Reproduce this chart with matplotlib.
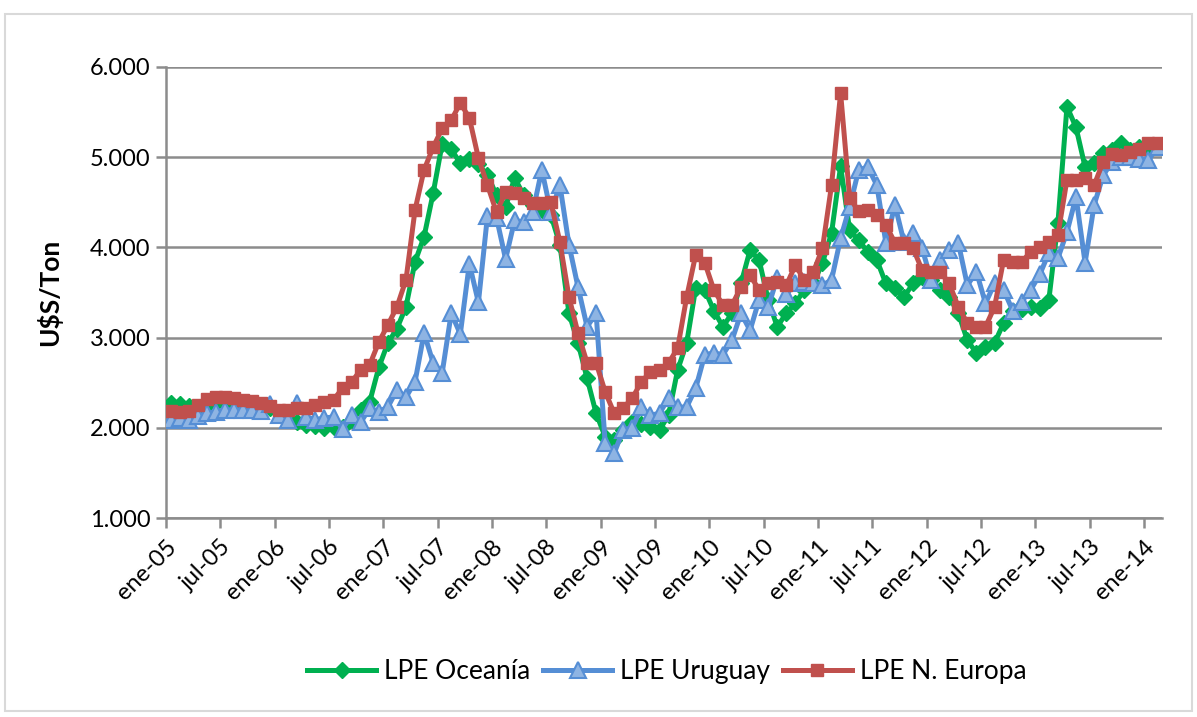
import matplotlib
matplotlib.use("Agg")
import matplotlib.pyplot as plt
from matplotlib.patches import Rectangle
import numpy as np

plt.rcParams['font.family'] = ['Lato', 'DejaVu Sans']

# Monthly series (mid-month), ene-05 .. feb-14 (US$/Ton)
oceania = [2270, 2260, 2240, 2230, 2250, 2270, 2270, 2260, 2250, 2250, 2240,
           2220, 2180, 2120, 2060, 2030, 2020, 2000, 2010, 2010, 2090, 2200, 2290,
           2670, 2940, 3100, 3340, 3840, 4120, 4600, 5150, 5090, 4930, 4980, 4920,
           4800, 4580, 4450, 4770, 4580, 4470, 4420, 4360, 4030, 3270, 2940, 2550,
           2160, 1900, 1860, 1975, 2060, 2040, 2010, 1975, 2140, 2640, 2940, 3550,
           3530, 3300, 3120, 3270, 3600, 3970, 3860, 3420, 3120, 3270, 3380, 3530,
           3600, 3830, 4160, 4900, 4190, 4080, 3950, 3860, 3600, 3550, 3450, 3600,
           3670, 3640, 3530, 3450, 3270, 2970, 2830, 2900, 2940, 3160, 3300, 3320,
           3340, 3330, 3420, 4270, 5560, 5330, 4890, 4940, 5050, 5080, 5160, 5080,
           5110, 5110, 5110]

uruguay = [2090, 2110, 2090, 2130, 2160, 2180, 2200, 2200, 2200, 2200, 2190,
           2260, 2140, 2090, 2270, 2120, 2090, 2110, 2120, 1990, 2140, 2060, 2220,
           2180, 2230, 2420, 2340, 2510, 3050, 2720, 2610, 3270, 3040, 3820, 3390,
           4350, 4330, 3870, 4300, 4280, 4390, 4860, 4390, 4690, 4030, 3560, 3120,
           3270, 1830, 1720, 1980, 2000, 2230, 2140, 2160, 2330, 2230, 2230, 2440,
           2810, 2830, 2810, 2970, 3270, 3080, 3420, 3340, 3660, 3480, 3600, 3620,
           3600, 3580, 3640, 4100, 4450, 4860, 4890, 4690, 4050, 4470, 4060, 4160,
           3990, 3640, 3860, 3970, 4050, 3580, 3730, 3380, 3600, 3530, 3300, 3400,
           3530, 3700, 3940, 3880, 4170, 4560, 3830, 4470, 4800, 4950, 5000, 5000,
           4980, 4970, 5110]

n_europa = [2190, 2180, 2190, 2250, 2320, 2340, 2340, 2330, 2310, 2300, 2280,
            2240, 2200, 2200, 2220, 2220, 2250, 2285, 2310, 2440, 2510, 2640, 2700,
            2950, 3140, 3340, 3640, 4415, 4860, 5110, 5320, 5410, 5600, 5435, 4990,
            4690, 4390, 4610, 4600, 4550, 4490, 4490, 4500, 4060, 3450, 3050, 2720,
            2720, 2400, 2160, 2220, 2330, 2510, 2620, 2640, 2720, 2880, 3450, 3920,
            3830, 3530, 3360, 3360, 3560, 3690, 3530, 3610, 3620, 3580, 3800, 3640,
            3730, 3990, 4690, 5710, 4550, 4400, 4410, 4360, 4250, 4050, 4050, 3990,
            3750, 3730, 3730, 3600, 3340, 3160, 3120, 3120, 3340, 3860, 3840, 3840,
            3950, 4000, 4060, 4140, 4750, 4750, 4770, 4690, 4950, 5040, 5020, 5060,
            5090, 5160, 5160]

tick_labels = ['ene-05', 'jul-05', 'ene-06', 'jul-06', 'ene-07', 'jul-07', 'ene-08',
               'jul-08', 'ene-09', 'jul-09', 'ene-10', 'jul-10', 'ene-11', 'jul-11',
               'ene-12', 'jul-12', 'ene-13', 'jul-13', 'ene-14']
y_ticks = [1000, 2000, 3000, 4000, 5000, 6000]
series_names = ['LPE Oceanía', 'LPE Uruguay', 'LPE N. Europa']

fig = plt.figure(figsize=(11.97, 7.17), dpi=100)
fig.patch.set_facecolor('white')
ax = fig.add_axes([0.1387, 0.2775, 0.9708 - 0.1387, 0.9066 - 0.2775])

# months since 1-ene-05; each observation sits at mid-month
x = np.arange(len(oceania)) + 0.5

ax.plot(x, oceania, color='#00B050', lw=3.6, marker='D', ms=8,
        mfc='#00B050', mec='#00B050', label=series_names[0], zorder=3,
        solid_joinstyle='round')
ax.plot(x, uruguay, color='#558ED5', lw=3.6, marker='^', ms=11,
        mfc='#8EB4E3', mec='#558ED5', mew=1.5, label=series_names[1], zorder=4,
        solid_joinstyle='round')
ax.plot(x, n_europa, color='#C0504D', lw=3.6, marker='s', ms=9,
        mfc='#C0504D', mec='#C0504D', label=series_names[2], zorder=5,
        solid_joinstyle='round')

ax.set_xlim(0, len(oceania))
ax.set_ylim(y_ticks[0], y_ticks[-1])
ax.set_yticks(y_ticks)
ax.set_yticklabels([f"{v:,}".replace(',', '.') for v in y_ticks], fontsize=17)
ax.set_xticks(np.arange(0, 6 * len(tick_labels), 6))
ax.set_xticklabels(tick_labels, rotation=45, ha='right', va='top',
                   rotation_mode='anchor', fontsize=17)

ax.yaxis.grid(True, color='#8C8C8C', lw=1.8)
ax.set_axisbelow(True)
for s in ['top', 'right']:
    ax.spines[s].set_visible(False)
for s in ['left', 'bottom']:
    ax.spines[s].set_color('#8C8C8C')
    ax.spines[s].set_linewidth(1.8)
ax.tick_params(axis='both', colors='#8C8C8C', length=7, width=1.8,
               labelcolor='black', pad=4)
ax.tick_params(axis='x', pad=6)

ax.set_ylabel('U$S/Ton', fontsize=19, fontweight='bold', labelpad=20)

leg = fig.legend(loc='center', bbox_to_anchor=(0.557, 0.063), ncol=3,
                 frameon=False, fontsize=19, handlelength=2.6,
                 columnspacing=0.5, handletextpad=0.3)

fig.patches.append(Rectangle((0.004, 0.008), 0.992, 0.972, transform=fig.transFigure,
                             fill=False, edgecolor='#D9D9D9', lw=1.5))

fig.savefig('out.png', dpi=100, facecolor='white')
